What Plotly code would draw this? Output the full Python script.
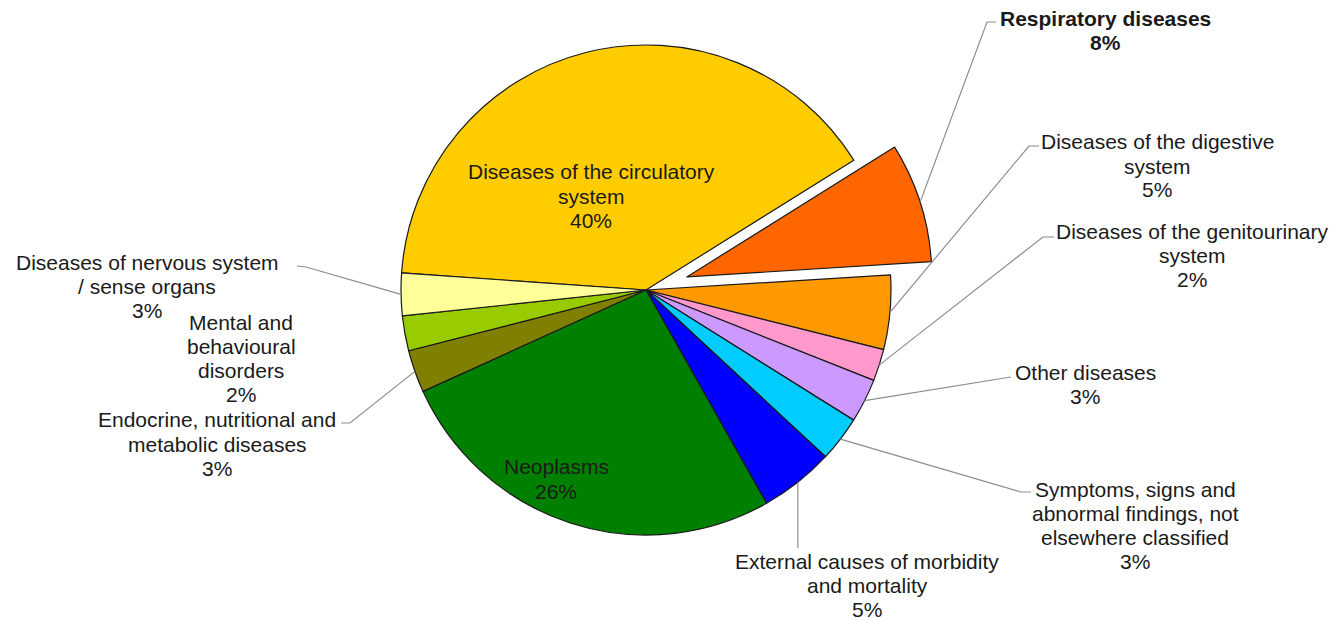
import math
import plotly.graph_objects as go

# ---------------- data ----------------
labels = [
    "Diseases of the circulatory system",
    "Respiratory diseases",
    "Diseases of the digestive system",
    "Diseases of the genitourinary system",
    "Other diseases",
    "Symptoms, signs and abnormal findings, not elsewhere classified",
    "External causes of morbidity and mortality",
    "Neoplasms",
    "Endocrine, nutritional and metabolic diseases",
    "Mental and behavioural disorders",
    "Diseases of nervous system / sense organs",
]
values = [40.0, 7.9, 4.9, 2.1, 2.9, 3.0, 4.9, 26.4, 2.8, 2.3, 2.8]
label_lines = [
    ["Diseases of the circulatory", "system"],
    ["Respiratory diseases"],
    ["Diseases of the digestive", "system"],
    ["Diseases of the genitourinary", "system"],
    ["Other diseases"],
    ["Symptoms, signs and", "abnormal findings, not", "elsewhere classified"],
    ["External causes of morbidity", "and mortality"],
    ["Neoplasms"],
    ["Endocrine, nutritional and", "metabolic diseases"],
    ["Mental and", "behavioural", "disorders"],
    ["Diseases of nervous system", "/ sense organs"],
]
highlighted = [False, True, False, False, False, False, False, False, False, False, False]

# ---------------- style / layout ----------------
colors = ["#FFCC00", "#FF6600", "#FF9900", "#FF99CC", "#CC99FF", "#00CCFF",
          "#0000FF", "#008000", "#808000", "#99CC00", "#FFFF99"]
W, H = 1335, 620
CX, CY, R = 646, 290, 245          # pie centre and radius in pixels
PULL = 0.175
ROTATION = -86
FONT = "Liberation Sans, Arial, sans-serif"
FS = 21
LINE_GAP = 24
TXT = "#1a1a1a"
LEAD = "#8c8c8c"

pulls = [PULL if h else 0 for h in highlighted]
half = R * (1 + PULL)
domain_x = [(CX - half) / W, (CX + half) / W]
domain_y = [1 - (CY + half) / H, 1 - (CY - half) / H]

# label placement: (centre x, first line y) in pixels, leader path on the label side
label_pos = [
    (591, 172, None),
    (1105, 18, [(996, 22), (987, 22)]),
    (1157, 142, [(1039, 146), (1029, 146)]),
    (1192, 231, [(1054, 237), (1043, 237)]),
    (1085, 372, [(1011, 377)]),
    (1135, 489, [(1031, 492), (1021, 492)]),
    (867, 561, [None, 548]),
    (556, 467, None),
    (217, 420, [(341, 423), (350, 423)]),
    (241, 322, None),
    (147, 262, [(297, 266), (306, 267)]),
]


def px(x):
    return x / W


def py(y):
    return 1 - y / H


fig = go.Figure(go.Pie(
    labels=labels,
    values=values,
    sort=False,
    direction="clockwise",
    rotation=ROTATION,
    pull=pulls,
    marker=dict(colors=colors, line=dict(color="#1a1a1a", width=1.2)),
    textinfo="none",
    hoverinfo="label+percent",
    domain=dict(x=domain_x, y=domain_y),
    showlegend=False,
))

total = sum(values)
annotations = []
shapes = []
cum = 0.0
for i, v in enumerate(values):
    mid = math.radians(ROTATION + (cum + v / 2) * 360 / total)
    cum += v
    rr = R * (1 + pulls[i])
    ex = CX + rr * math.sin(mid)
    ey = CY - rr * math.cos(mid)
    lx, ly, lead = label_pos[i]
    pct = f"{round(v / total * 100)}%"
    for k, line in enumerate(label_lines[i] + [pct]):
        t = f"<b>{line}</b>" if highlighted[i] else line
        annotations.append(dict(
            x=px(lx), y=py(ly + k * LINE_GAP), xref="paper", yref="paper", text=t,
            showarrow=False, xanchor="center", yanchor="middle", align="center",
            borderpad=0,
            font=dict(family=FONT, size=FS, color=TXT),
        ))
    if lead:
        if lead[0] is None:
            pts = [(ex, ey), (ex, lead[1])]
        else:
            pts = [(ex, ey)] + list(reversed(lead))
        path = "M " + " L ".join(f"{px(a):.5f},{py(b):.5f}" for a, b in pts)
        shapes.append(dict(type="path", path=path, xref="paper", yref="paper",
                           line=dict(color=LEAD, width=1.2)))

fig.update_layout(
    width=W, height=H,
    margin=dict(l=0, r=0, t=0, b=0),
    paper_bgcolor="white",
    plot_bgcolor="white",
    annotations=annotations,
    shapes=shapes,
)

fig.write_html("out.html")
